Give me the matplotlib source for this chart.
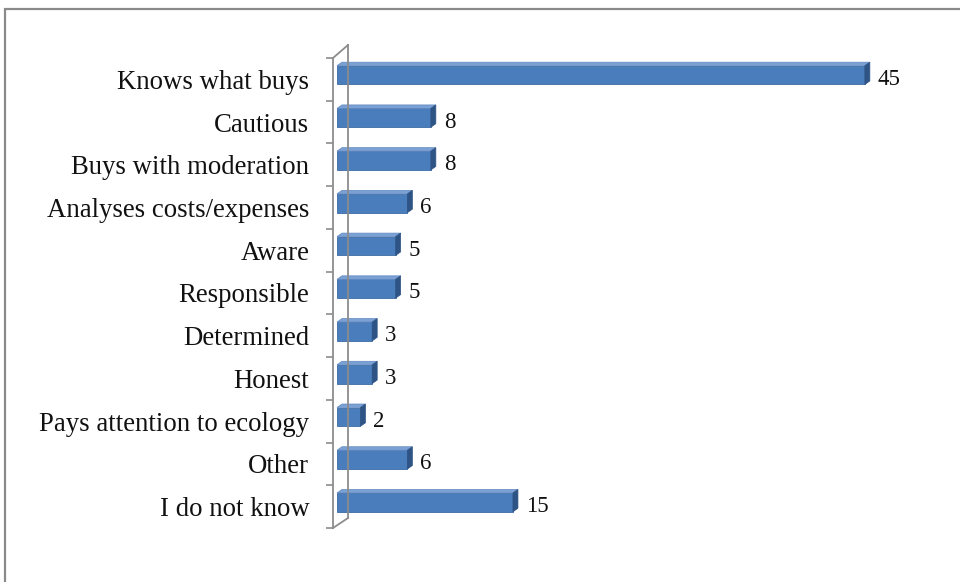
import matplotlib
matplotlib.use("Agg")
import matplotlib.pyplot as plt
from matplotlib.patches import Polygon, Rectangle
from matplotlib.lines import Line2D

categories = [
    "Knows what buys", "Cautious", "Buys with moderation",
    "Analyses costs/expenses", "Aware", "Responsible", "Determined",
    "Honest", "Pays attention to ecology", "Other", "I do not know",
]
values = [45, 8, 8, 6, 5, 5, 3, 3, 2, 6, 15]

W, H = 960, 582
plt.rcParams["font.family"] = ["Liberation Serif", "DejaVu Serif"]

fig = plt.figure(figsize=(W / 100, H / 100), dpi=100)

# plot area in pixels (from top-left)
left_px, right_px = 337, 337 + 50 * 11.73
top_px, bot_px = 58, 528
ax = fig.add_axes([left_px / W, 1 - bot_px / H,
                   (right_px - left_px) / W, (bot_px - top_px) / H])
ax.set_xlim(0, 50)
ax.set_ylim(len(categories) - 0.5, -0.5)

face = "#4A7DBB"
top_c = "#7BA0D4"
side_c = "#2E5485"

# depth of the bars in data units (~5 px right, ~4 px up)
dx = 5 / 11.73
dy = 3.5 / 42.7
shift = -0.1
h = 0.44

for i, v in enumerate(values):
    yc = i + shift
    y0, y1 = yc - h / 2, yc + h / 2
    ax.barh(yc, v, height=h, color=face, edgecolor="#3D6BA3", linewidth=0.6, zorder=3)
    ax.add_patch(Polygon([(0, y0), (v, y0), (v + dx, y0 - dy), (dx, y0 - dy)],
                         closed=True, facecolor=top_c, edgecolor="#5F88C2",
                         linewidth=0.5, zorder=3, clip_on=False))
    ax.add_patch(Polygon([(v, y0), (v, y1), (v + dx, y1 - dy), (v + dx, y0 - dy)],
                         closed=True, facecolor=side_c, edgecolor=side_c,
                         linewidth=0.5, zorder=3, clip_on=False))
    ax.annotate(str(v), xy=(v + dx, i + 0.0), xytext=(8, 0),
                textcoords="offset pixels", va="center", ha="left",
                fontsize=16.5, color="#111111", annotation_clip=False)

ax.set_yticks(range(len(categories)))
ax.set_yticklabels(categories)
ax.set_yticks([i - 0.5 for i in range(len(categories) + 1)], minor=True)
ax.tick_params(axis="y", which="major", length=0, pad=17,
               labelsize=19.3, labelcolor="#111111")
ax.tick_params(axis="y", which="minor", length=5, width=1.2, color="#8C8C8C")
ax.set_xticks([])
for s in ["top", "right", "bottom"]:
    ax.spines[s].set_visible(False)
ax.spines["left"].set_position(("outward", 2.9))
ax.spines["left"].set_color("#8C8C8C")
ax.spines["left"].set_linewidth(1.3)


def px(x, y):
    return x / W, 1 - y / H


# back wall and its joins to the front edge
wall = [((333, 58), (348, 45)), ((348, 45), (348, 518)), ((333, 528), (348, 518))]
for a, b in wall:
    (xa, ya), (xb, yb) = px(*a), px(*b)
    fig.add_artist(Line2D([xa, xb], [ya, yb], transform=fig.transFigure,
                          color="#8C8C8C", linewidth=1.3))

# chart border
x0, y0 = px(5, 600)
x1, y1 = px(980, 9)
fig.add_artist(Rectangle((x0, y0), x1 - x0, y1 - y0, transform=fig.transFigure,
                         fill=False, edgecolor="#8A8A8A", linewidth=1.6))

fig.savefig("out.png", dpi=100)
